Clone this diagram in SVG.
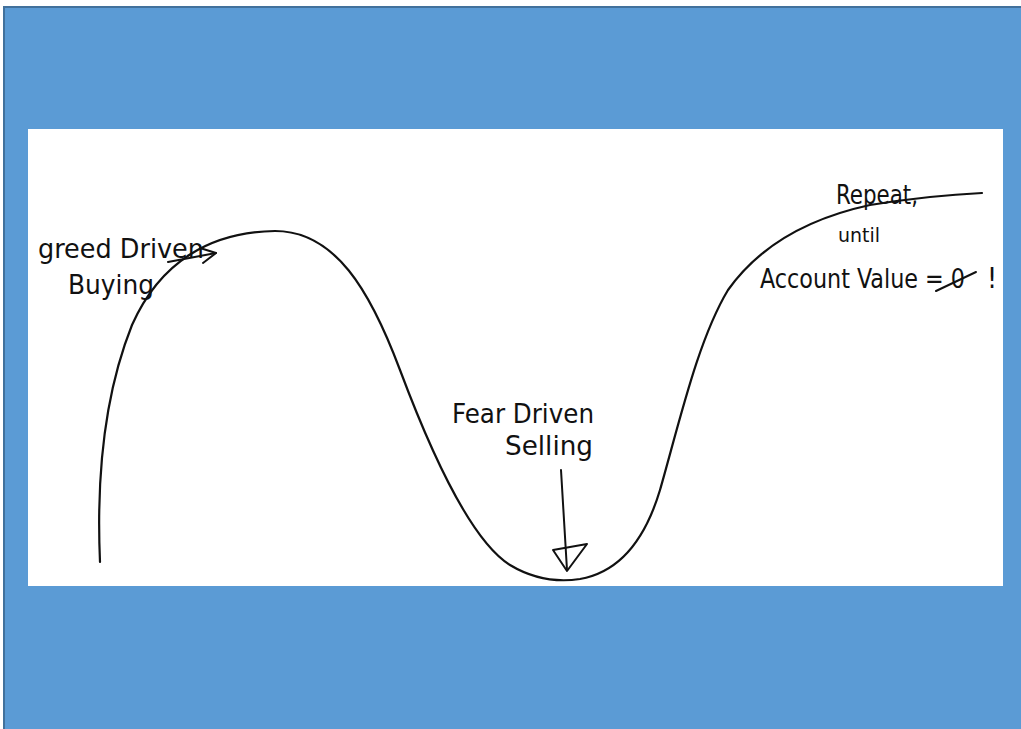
<svg xmlns="http://www.w3.org/2000/svg" width="1021" height="729" viewBox="0 0 1021 729">
<defs>
<style>
.hand{font-family:"Liberation Sans Narrow","DejaVu Sans Condensed","Liberation Sans",sans-serif;fill:#111;}
.ink{fill:none;stroke:#111;stroke-linecap:round;stroke-linejoin:round;}
</style>
</defs>
<rect x="0" y="0" width="1021" height="729" fill="#ffffff"/>
<rect x="4" y="7" width="1018" height="723" fill="#5B9BD5" stroke="#41719C" stroke-width="2"/>
<rect x="28" y="129" width="975" height="457" fill="#ffffff"/>
<g id="curve">
<path class="ink" stroke-width="2.2" d="M100,562 C96,470 106,390 132,325 C160,262 210,232 275,231 C335,231 370,290 400,370 C430,450 470,540 510,565 C535,580 560,582 580,579 C620,572 645,540 660,490 C680,420 698,340 728,290 C760,245 810,218 870,205 C920,197 960,194 982,193"/>
</g>
<g id="greed">
<text class="hand" x="38" y="258" font-size="27" textLength="166" lengthAdjust="spacingAndGlyphs">greed Driven</text>
<text class="hand" x="68" y="294" font-size="27" textLength="86" lengthAdjust="spacingAndGlyphs">Buying</text>
</g>
<g id="fear">
<text class="hand" x="452" y="423" font-size="27" textLength="142" lengthAdjust="spacingAndGlyphs">Fear Driven</text>
<text class="hand" x="505" y="455" font-size="27" textLength="88" lengthAdjust="spacingAndGlyphs">Selling</text>
</g>
<g id="repeat">
<text class="hand" x="836" y="204" font-size="26" textLength="82" lengthAdjust="spacingAndGlyphs">Repeat,</text>
<text class="hand" x="838" y="242" font-size="20" textLength="42" lengthAdjust="spacingAndGlyphs">until</text>
<text class="hand" x="760" y="288" font-size="26" textLength="205" lengthAdjust="spacingAndGlyphs">Account Value = 0</text>
<line class="ink" stroke-width="2" x1="936" y1="291" x2="976" y2="272"/>
<text class="hand" x="987" y="288" font-size="28">!</text>
</g>
<g id="connectors">
<path class="ink" stroke-width="2" d="M168,262 L216,253"/>
<path class="ink" stroke-width="2" d="M200,248 L216,253 L203,263"/>
<path class="ink" stroke-width="2" d="M561,470 L567,570"/>
<path class="ink" stroke-width="2" d="M553,550 L587,544 L567,571 Z"/>
</g>
</svg>
